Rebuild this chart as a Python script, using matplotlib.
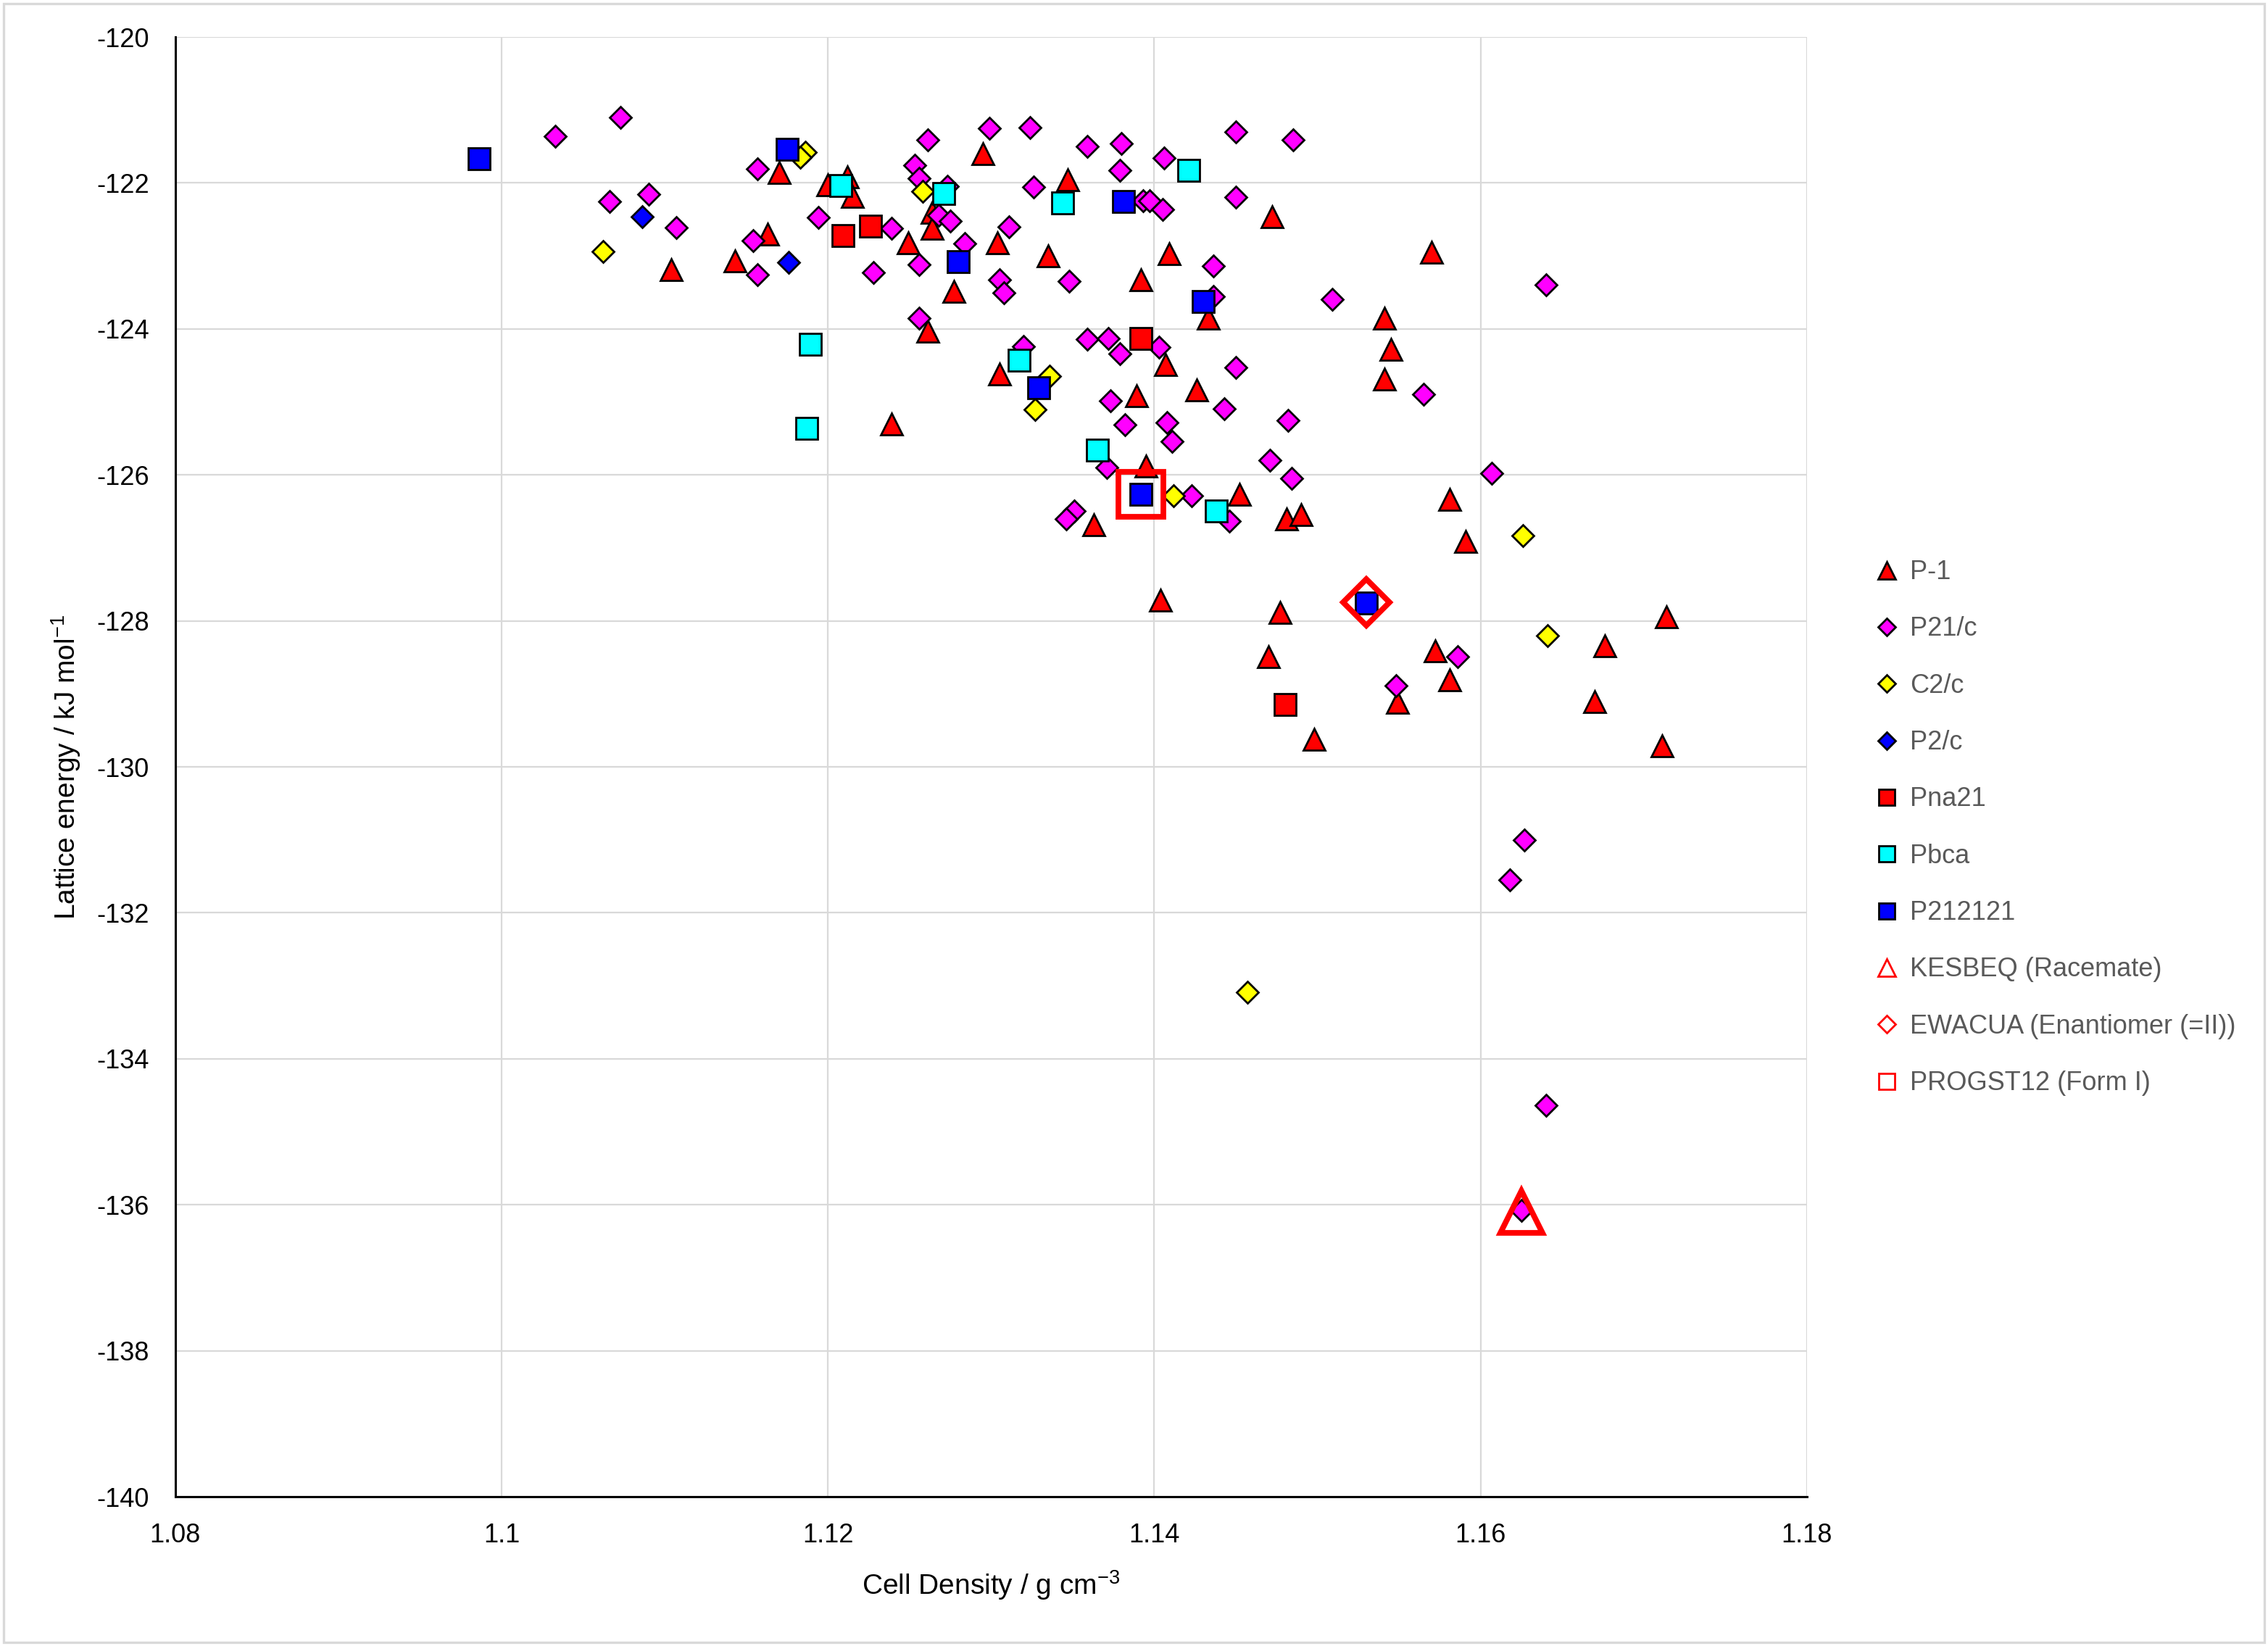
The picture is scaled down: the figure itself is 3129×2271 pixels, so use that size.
import matplotlib
matplotlib.use("Agg")
import matplotlib.pyplot as plt
from matplotlib.lines import Line2D
from matplotlib.patches import Rectangle

plt.rcParams["font.family"] = ["Liberation Sans", "DejaVu Sans"]
plt.rcParams["axes.unicode_minus"] = False
plt.rcParams["mathtext.default"] = "regular"

# ---- data (cell density g/cm3, lattice energy kJ/mol) ----
p1_x = [1.1104, 1.1143, 1.1163, 1.1170, 1.1200, 1.1212, 1.1215, 1.1295, 1.1264, 1.1264,
        1.1249, 1.1304, 1.1347, 1.1335, 1.1277, 1.1409, 1.1392, 1.1433, 1.1261, 1.1407,
        1.1305, 1.1239, 1.1389, 1.1395, 1.1363, 1.1541, 1.1545, 1.1541, 1.1426, 1.1452,
        1.1481, 1.1490, 1.1581, 1.1591, 1.1472, 1.1570, 1.1477, 1.1470, 1.1498, 1.1572,
        1.1581, 1.1549, 1.1714, 1.1676, 1.1670, 1.1711, 1.1404]
p1_y = [-123.19, -123.07, -122.70, -121.86, -122.02, -121.92, -122.18, -121.60, -122.40, -122.62,
        -122.82, -122.82, -121.96, -123.00, -123.48, -122.97, -123.33, -123.85, -124.03, -124.49,
        -124.62, -125.30, -124.91, -125.88, -126.68, -123.85, -124.28, -124.69, -124.84, -126.27,
        -126.60, -126.54, -126.33, -126.91, -122.46, -122.95, -127.88, -128.49, -129.62, -128.41,
        -128.81, -129.12, -127.94, -128.34, -129.11, -129.71, -127.72]

p21c_x = [1.1033, 1.1073, 1.1066, 1.1090, 1.1107, 1.1157, 1.1154, 1.1157, 1.1194,
          1.1261, 1.1299, 1.1324, 1.1253, 1.1256, 1.1273, 1.1239, 1.1268, 1.1275, 1.1284,
          1.1256, 1.1228, 1.1311, 1.1326, 1.1359, 1.1380, 1.1379, 1.1406, 1.1450, 1.1393,
          1.1397, 1.1405, 1.1450, 1.1305, 1.1308, 1.1348, 1.1436, 1.1436, 1.1256, 1.1359,
          1.1372, 1.1379, 1.1403, 1.1320, 1.1450, 1.1373, 1.1382, 1.1408, 1.1411, 1.1371,
          1.1351, 1.1346, 1.1423, 1.1509, 1.1640, 1.1443, 1.1565, 1.1482, 1.1471, 1.1484,
          1.1607, 1.1446, 1.1485, 1.1586, 1.1548, 1.1627, 1.1618, 1.1640, 1.1625]
p21c_y = [-121.36, -121.10, -122.25, -122.15, -122.61, -121.81, -122.79, -123.26, -122.47,
          -121.41, -121.25, -121.24, -121.76, -121.94, -122.04, -122.62, -122.44, -122.52, -122.83,
          -123.12, -123.23, -122.60, -122.05, -121.50, -121.46, -121.83, -121.66, -121.30, -122.24,
          -122.24, -122.36, -122.19, -123.33, -123.50, -123.35, -123.14, -123.55, -123.85, -124.14,
          -124.13, -124.34, -124.25, -124.24, -124.53, -124.98, -125.31, -125.28, -125.54, -125.90,
          -126.49, -126.60, -126.29, -123.59, -123.40, -125.09, -124.89, -125.25, -125.80, -126.05,
          -125.98, -126.63, -121.41, -128.49, -128.89, -131.00, -131.55, -134.64, -136.08]

c2c_x = [1.1062, 1.1186, 1.1183, 1.1258, 1.1336, 1.1327, 1.1412, 1.1626, 1.1641, 1.1457]
c2c_y = [-122.94, -121.58, -121.65, -122.11, -124.65, -125.10, -126.29, -126.83, -128.20, -133.09]

p2c_x = [1.1086, 1.1176]
p2c_y = [-122.46, -123.09]

pna21_x = [1.1209, 1.1226, 1.1392, 1.1480]
pna21_y = [-122.72, -122.59, -124.13, -129.15]

pbca_x = [1.1208, 1.1271, 1.1344, 1.1421, 1.1189, 1.1187, 1.1317, 1.1365, 1.1438]
pbca_y = [-122.03, -122.14, -122.27, -121.83, -124.21, -125.36, -124.43, -125.66, -126.49]

p212121_x = [1.0986, 1.1175, 1.1381, 1.1280, 1.1430, 1.1329, 1.1392, 1.1530]
p212121_y = [-121.67, -121.54, -122.25, -123.08, -123.62, -124.81, -126.27, -127.76]

kesbeq_x, kesbeq_y = [1.1625], [-136.10]
ewacua_x, ewacua_y = [1.1530], [-127.75]
progst_x, progst_y = [1.1392], [-126.27]

x_ticks = [1.08, 1.10, 1.12, 1.14, 1.16, 1.18]
x_tick_labels = ["1.08", "1.1", "1.12", "1.14", "1.16", "1.18"]
y_ticks = list(range(-140, -119, 2))

# (label, x, y, marker, size, face, edge, edge width, legend size)
series = [
    ("P-1", p1_x, p1_y, "^", 10.5, "#FF0000", "black", 1.0, 8.5),
    ("P21/c", p21c_x, p21c_y, "D", 7.6, "#FF00FF", "black", 1.0, 6.0),
    ("C2/c", c2c_x, c2c_y, "D", 7.6, "#FFFF00", "black", 1.0, 6.0),
    ("P2/c", p2c_x, p2c_y, "D", 7.6, "#0000FF", "black", 1.0, 6.0),
    ("Pna21", pna21_x, pna21_y, "s", 10.5, "#FF0000", "black", 1.0, 8.0),
    ("Pbca", pbca_x, pbca_y, "s", 10.5, "#00FFFF", "black", 1.0, 8.0),
    ("P212121", p212121_x, p212121_y, "s", 10.5, "#0000FF", "black", 1.0, 8.0),
    ("KESBEQ (Racemate)", kesbeq_x, kesbeq_y, "^", 21, "none", "#FF0000", 2.8, 8.5),
    ("EWACUA (Enantiomer (=II))", ewacua_x, ewacua_y, "D", 16.5, "none", "#FF0000", 2.8, 6.0),
    ("PROGST12 (Form I)", progst_x, progst_y, "s", 22, "none", "#FF0000", 2.8, 8.0),
]

fig = plt.figure(figsize=(15.645, 11.355), dpi=200)
ax = fig.add_axes([0.0773, 0.0907, 0.7194, 0.8868])

handles = []
for label, xs, ys, mk, ms, fc, ec, mew, lms in series:
    ax.plot(xs, ys, linestyle="none", marker=mk, markersize=ms,
            markerfacecolor=fc, markeredgecolor=ec, markeredgewidth=mew, zorder=3)
    handles.append(Line2D([], [], linestyle="none", marker=mk, markersize=lms,
                          markerfacecolor=fc, markeredgecolor=ec,
                          markeredgewidth=min(mew, 1.0), label=label))

ax.set_xlim(1.08, 1.18)
ax.set_ylim(-140, -120)
ax.set_xticks(x_ticks)
ax.set_xticklabels(x_tick_labels)
ax.set_yticks(y_ticks)
ax.tick_params(length=0, labelsize=13, pad=13, colors="black")
ax.grid(True, color="#D9D9D9", linewidth=0.8, zorder=0)
ax.set_axisbelow(True)
for side in ("top", "right"):
    ax.spines[side].set_visible(False)
for side in ("left", "bottom"):
    ax.spines[side].set_linewidth(1.1)
    ax.spines[side].set_zorder(4)

ax.set_xlabel("Cell Density / g cm$^{-3}$", fontsize=14, labelpad=10)
ax.set_ylabel("Lattice energy / kJ mol$^{-1}$", fontsize=14, labelpad=7)

fig.legend(handles=handles, loc="upper left", bbox_to_anchor=(0.826, 0.660),
           frameon=False, fontsize=13, labelcolor="#595959", borderpad=0,
           borderaxespad=0, handlelength=1.0, handletextpad=0.4, labelspacing=1.2)

fig.patches.append(Rectangle((0.0015, 0.002), 0.997, 0.996, transform=fig.transFigure,
                             fill=False, edgecolor="#D9D9D9", linewidth=1.2))

fig.savefig("out.png", dpi=200)
